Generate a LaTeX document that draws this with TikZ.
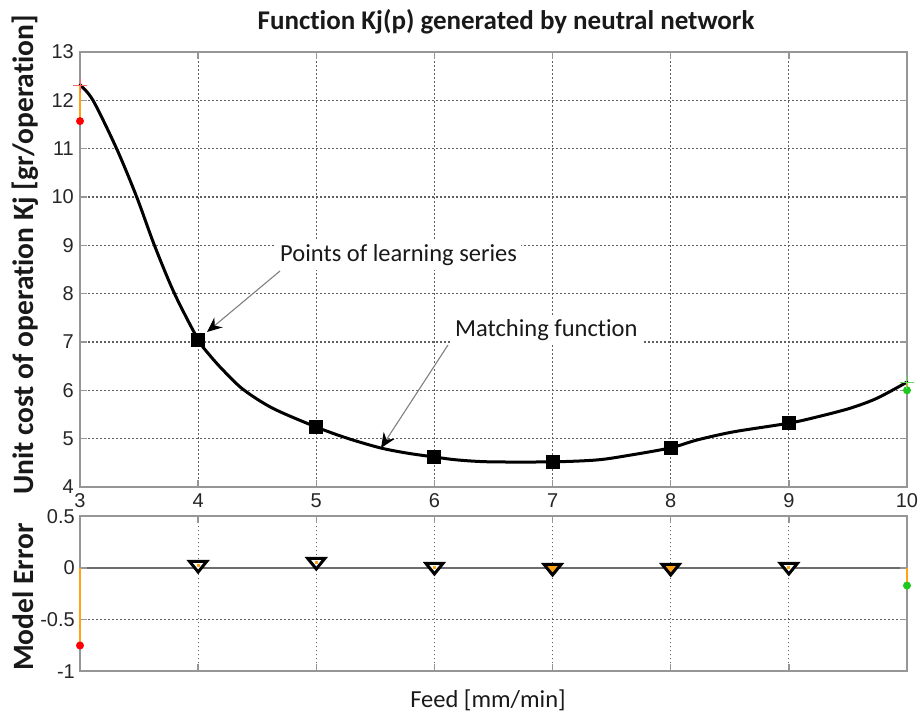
\documentclass[tikz,border=0pt]{standalone}
\usepackage{fontspec}
\setmainfont{Carlito}[Ligatures=NoCommon]
\newfontfamily\arialf{Liberation Sans}
\usetikzlibrary{arrows.meta,calc}
\definecolor{mlorange}{RGB}{255,163,20}
\definecolor{mlgreen}{RGB}{30,200,30}
\definecolor{axgray}{RGB}{150,150,150}
\definecolor{gridgray}{RGB}{95,95,95}
\begin{document}
\begin{tikzpicture}[x=1pt,y=1pt,
  axbox/.style={draw=axgray, line width=2pt},
  gridl/.style={draw=gridgray, line width=1.1pt, dash pattern=on 1.6pt off 2.4pt},
  tickl/.style={draw=axgray, line width=1.5pt},
  ticklab/.style={font=\arialf\fontsize{20}{20}\selectfont, inner sep=0pt, text=black!85},
  annot/.style={font=\fontsize{24.5}{26}\selectfont, fill=white, inner sep=4pt, text=black!90},
  pointer/.style={draw=gray, line width=1.1pt, -{Stealth[length=15pt, width=13pt, inset=5pt, color=black]}},
  curveline/.style={line width=3pt, line join=round, line cap=round},
  sqmark/.style={fill=black},
  trimark/.style={draw=black, line width=3pt, line join=miter},
  stem/.style={draw=mlorange, line width=2.2pt},
  bigbold/.style={font=\bfseries\fontsize{29.5}{30}\selectfont, text=black!90}
]
\useasboundingbox (0,0) rectangle (920,715);

% title
\node[font=\bfseries\fontsize{27}{28}\selectfont, text=black!90] (title) at (506,693) {Function Kj(p) generated by neutral network};

% axis labels
\node[bigbold, rotate=90, anchor=base] (ylab) at (33,460) {Unit cost of operation Kj [gr/operation]};
\node[bigbold, rotate=90, anchor=base] (elab) at (33,118) {Model Error};
\node[annot, fill=none] (xlab) at (488,15) {Feed [mm/min]};

% ===== top panel =====
\begin{scope}[x=118.14pt, y=48.33pt, shift={(-274.42pt,34.71pt)}]
  \foreach \xx in {4,...,9} \draw[gridl] (\xx,4) -- (\xx,13);
  \foreach \v in {5,...,12} \draw[gridl] (3,\v) -- (10,\v);
  \foreach \xx in {4,...,9} {\draw[tickl] (\xx,4) -- ++(0,7pt); \draw[tickl] (\xx,13) -- ++(0,-7pt);}
  \foreach \v in {5,...,12} {\draw[tickl] (3,\v) -- ++(7pt,0); \draw[tickl] (10,\v) -- ++(-7pt,0);}
  \draw[axbox] (3,4) rectangle (10,13);
  \foreach \v in {4,...,13} \node[ticklab, anchor=east, xshift=-6pt] (yt\v) at (3,\v) {\v};
  \foreach \xx in {3,...,10} \node[ticklab, yshift=-14pt] (xt\xx) at (\xx,4) {\xx};

  \draw[curveline] plot[smooth, tension=0.5] coordinates {
    (3,12.32) (3.11,12.0) (3.31,11.0) (3.48,10.0) (3.63,9.0)
    (3.80,8.0) (4.0,7.05) (4.1,6.72) (4.21,6.42) (4.38,6.02)
    (4.63,5.63) (5.0,5.24) (5.26,5.01) (5.54,4.81) (5.77,4.70) (6.0,4.62)
    (6.19,4.56) (6.47,4.52) (7.0,4.52) (7.38,4.56) (7.66,4.66) (8.0,4.81)
    (8.22,4.97) (8.53,5.14) (9.0,5.32) (9.24,5.45) (9.52,5.63) (9.75,5.84) (10.0,6.17)};
  \foreach \xx/\v in {4/7.05,5/5.24,6/4.62,7/4.52,8/4.81,9/5.32}
    \fill[sqmark] (\xx,\v) ++(-7pt,-7pt) rectangle ++(14pt,14pt);

  \draw[stem] (3,12.3) -- (3,11.57);
  \fill[red] (3,11.57) circle (4pt);
  \draw[red!60, line width=1pt] (3,12.3) ++(-7pt,0) -- ++(14pt,0);
  \draw[red!60, line width=1pt] (3,12.3) ++(0,-7pt) -- ++(0,14pt);
  \draw[stem] (10,6.17) -- (10,6.0);
  \fill[mlgreen] (10,6.0) circle (4pt);
  \draw[mlgreen!70, line width=1pt] (10,6.17) ++(-7pt,0) -- ++(14pt,0);
  \draw[mlgreen!70, line width=1pt] (10,6.17) ++(0,-7pt) -- ++(0,14pt);
\end{scope}

% annotations
\node[annot, anchor=west] (pts) at (276,460) {Points of learning series};
\node[annot, anchor=west] (mf) at (451,385) {Matching function};
\coordinate (p1s) at (280,444);
\coordinate (p1e) at (207,383);
\coordinate (p2s) at (448,370);
\coordinate (p2e) at (381,267);
\draw[pointer] (p1s) -- (p1e);
\draw[pointer] (p2s) -- (p2e);

% ===== bottom panel =====
\begin{scope}[x=118.14pt, y=103.3pt, shift={(-274.42pt,147pt)}]
  \foreach \xx in {4,...,9} \draw[gridl] (\xx,-1) -- (\xx,0.5);
  \draw[gridl] (3,-0.5) -- (10,-0.5);
  \draw[draw=gray!85!black, line width=1.5pt] (3,0) -- (10,0);
  \foreach \xx in {4,...,9} {\draw[tickl] (\xx,-1) -- ++(0,7pt); \draw[tickl] (\xx,0.5) -- ++(0,-7pt);}
  \foreach \v in {0,-0.5} {\draw[tickl] (3,\v) -- ++(7pt,0); \draw[tickl] (10,\v) -- ++(-7pt,0);}
  \draw[axbox] (3,-1) rectangle (10,0.5);
  \node[ticklab, anchor=east, xshift=-5pt] (et1) at (3,0.5) {0.5};
  \node[ticklab, anchor=east, xshift=-5pt] (et2) at (3,0) {0};
  \node[ticklab, anchor=east, xshift=-5pt] (et3) at (3,-0.5) {-0.5};
  \node[ticklab, anchor=east, xshift=-5pt] (et4) at (3,-1) {-1};

  \draw[stem] (3,0) -- (3,-0.75);
  \fill[red] (3,-0.75) circle (4pt);
  \draw[stem] (10,0) -- (10,-0.17);
  \fill[mlgreen] (10,-0.17) circle (4pt);

  \foreach \xx/\e/\f in {4/0.063/white,5/0.092/white,6/0.044/white,7/0.034/mlorange,8/0.034/mlorange,9/0.044/white} {
    \draw[trimark, fill=\f] (\xx,\e) ++(-8.5pt,0) -- ++(17pt,0) -- ++(-8.5pt,-10.5pt) -- cycle;
    \fill[mlorange] (\xx,\e) ++(-1.5pt,-6pt) rectangle ++(3pt,3pt);
  }
\end{scope}
\end{tikzpicture}
\end{document}
